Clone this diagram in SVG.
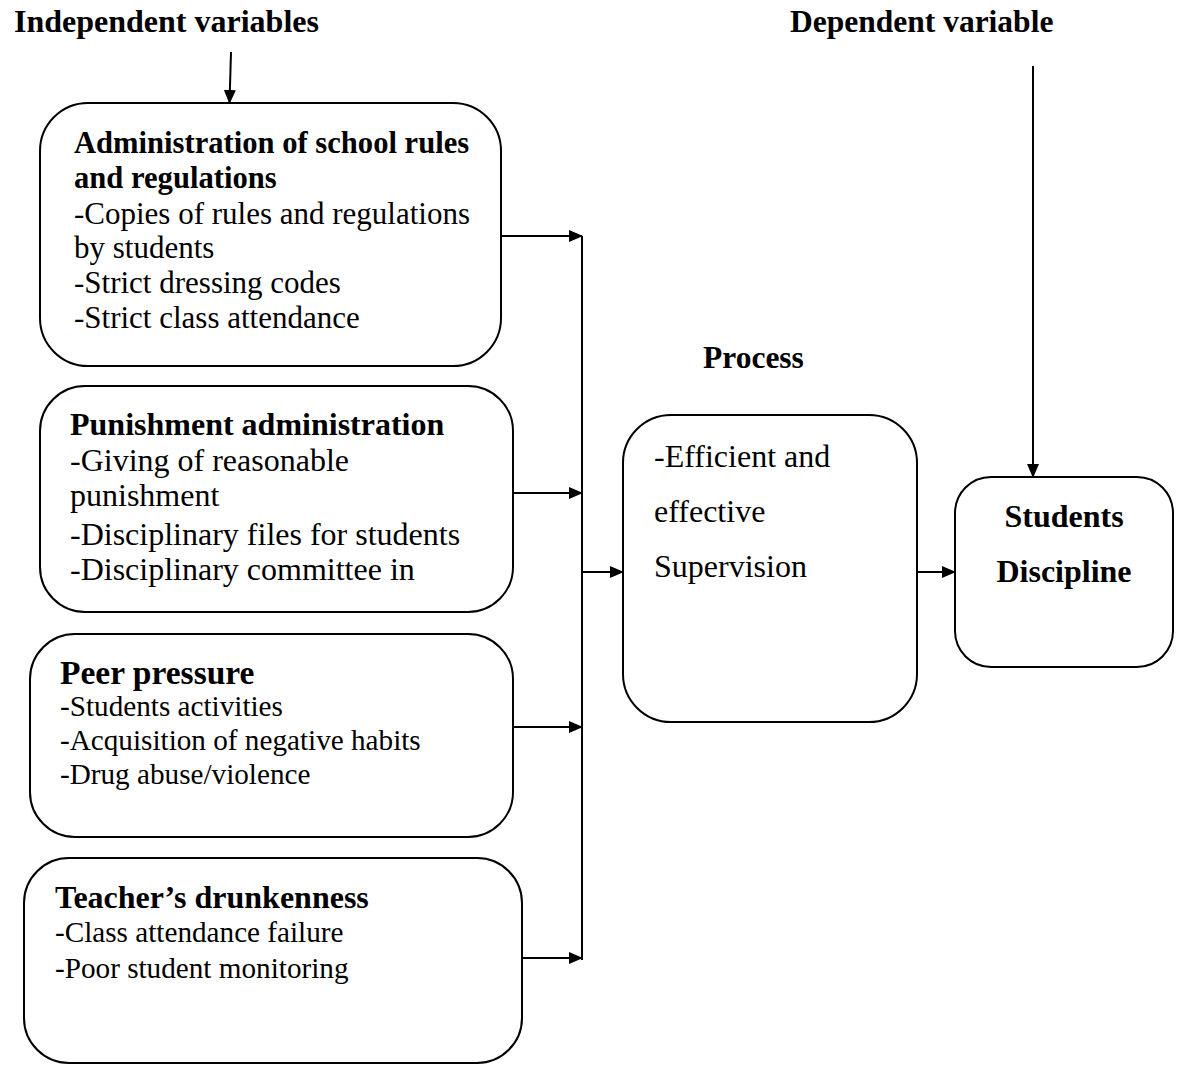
<svg xmlns="http://www.w3.org/2000/svg" width="1181" height="1065" viewBox="0 0 1181 1065">
<style>
text{font-family:"Liberation Serif","Times New Roman",serif;fill:#000}
.b{font-weight:bold}
.box{fill:#fff;stroke:#000;stroke-width:2}
.ln{stroke:#000;stroke-width:2;fill:none}
</style>
<defs>
<marker id="ah" markerUnits="userSpaceOnUse" markerWidth="14" markerHeight="12" refX="13" refY="6" orient="auto">
<path d="M0,0 L14,6 L0,12 z" fill="#000"/>
</marker>
</defs>
<rect width="1181" height="1065" fill="#fff"/>
<g id="labels">
<text class="b" x="14" y="32" font-size="32">Independent variables</text>
<text class="b" x="790" y="32" font-size="31.5">Dependent variable</text>
<text class="b" x="703" y="368" font-size="31.5">Process</text>
</g>
<g id="connectors">
<line class="ln" x1="231" y1="52" x2="229.5" y2="103" marker-end="url(#ah)"/>
<line class="ln" x1="1033" y1="66" x2="1033" y2="477" marker-end="url(#ah)"/>
<line class="ln" x1="582" y1="236" x2="582" y2="960"/>
<line class="ln" x1="501" y1="236" x2="582" y2="236" marker-end="url(#ah)"/>
<line class="ln" x1="513" y1="493" x2="582" y2="493" marker-end="url(#ah)"/>
<line class="ln" x1="513" y1="727" x2="582" y2="727" marker-end="url(#ah)"/>
<line class="ln" x1="522" y1="958" x2="582" y2="958" marker-end="url(#ah)"/>
<line class="ln" x1="582" y1="572" x2="623" y2="572" marker-end="url(#ah)"/>
<line class="ln" x1="917" y1="572" x2="955" y2="572" marker-end="url(#ah)"/>
</g>
<g id="node-rules">
<rect class="box" x="40" y="103" width="461" height="263" rx="48"/>
<text class="b" x="74" y="153" font-size="30.6">Administration of school rules</text>
<text class="b" x="74" y="188" font-size="30.6">and regulations</text>
<text x="74" y="224" font-size="31">-Copies of rules and regulations</text>
<text x="74" y="258" font-size="31">by students</text>
<text x="74" y="293" font-size="31">-Strict dressing codes</text>
<text x="74" y="328" font-size="31">-Strict class attendance</text>
</g>
<g id="node-punishment">
<rect class="box" x="40" y="386" width="473" height="226" rx="45"/>
<text class="b" x="70" y="435" font-size="32">Punishment administration</text>
<text x="70" y="471" font-size="32">-Giving of reasonable</text>
<text x="70" y="506" font-size="32">punishment</text>
<text x="70" y="545" font-size="32">-Disciplinary files for students</text>
<text x="70" y="580" font-size="32">-Disciplinary committee in</text>
</g>
<g id="node-peer">
<rect class="box" x="30" y="634" width="483" height="203" rx="45"/>
<text class="b" x="60" y="684" font-size="33.5">Peer pressure</text>
<text x="60" y="716" font-size="29.2">-Students activities</text>
<text x="60" y="750" font-size="29.2">-Acquisition of negative habits</text>
<text x="60" y="784" font-size="29.2">-Drug abuse/violence</text>
</g>
<g id="node-teacher">
<rect class="box" x="24" y="858" width="498" height="205" rx="45"/>
<text class="b" x="55" y="908" font-size="32">Teacher’s drunkenness</text>
<text x="55" y="942" font-size="29.2">-Class attendance failure</text>
<text x="55" y="978" font-size="29.2">-Poor student monitoring</text>
</g>
<g id="node-process">
<rect class="box" x="623" y="415" width="294" height="307" rx="48"/>
<text x="654" y="467" font-size="32">-Efficient and</text>
<text x="654" y="522" font-size="32">effective</text>
<text x="654" y="577" font-size="32">Supervision</text>
</g>
<g id="node-discipline">
<rect class="box" x="955" y="477" width="218" height="190" rx="36"/>
<text class="b" x="1064" y="527" font-size="32" text-anchor="middle">Students</text>
<text class="b" x="1064" y="582" font-size="32" text-anchor="middle">Discipline</text>
</g>
</svg>
